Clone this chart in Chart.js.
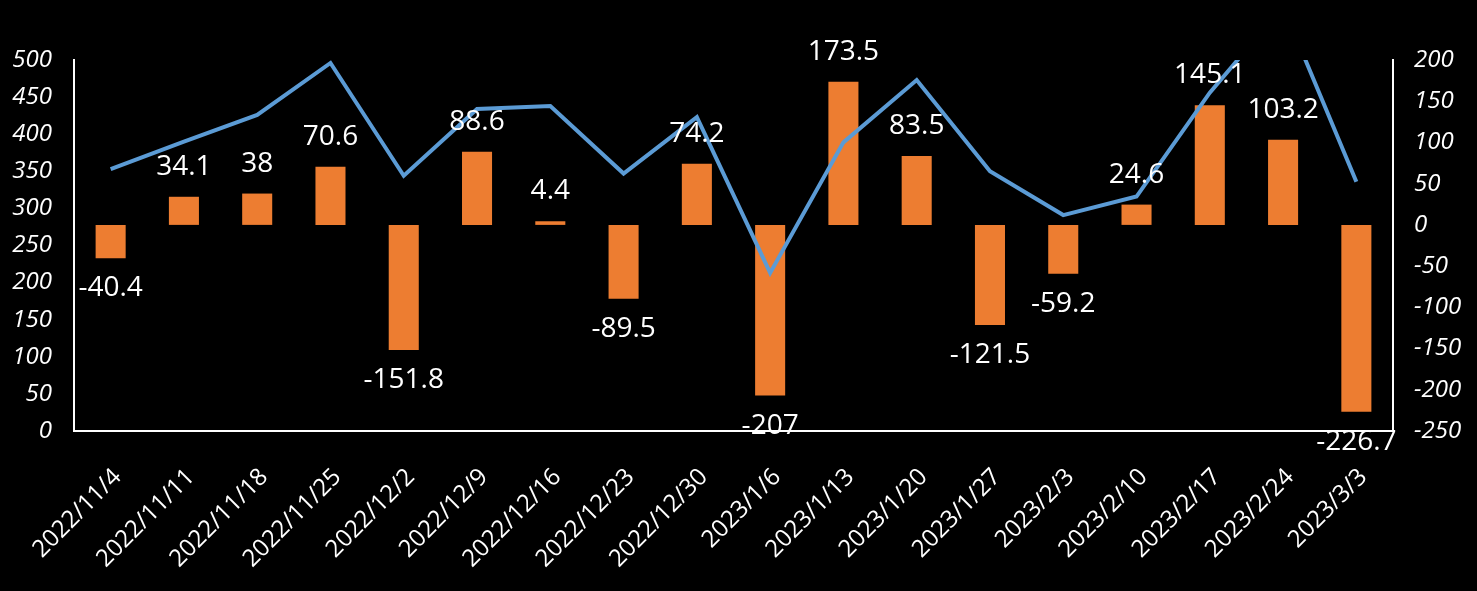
<!DOCTYPE html>
<html>
<head>
<meta charset="utf-8">
<script src="https://cdn.jsdelivr.net/npm/chart.js@4"></script>
<style>
  html, body { margin: 0; padding: 0; background: #000; }
  #wrap { width: 1477px; height: 591px; position: relative; }
</style>
</head>
<body>
<div id="wrap"><canvas id="c" width="1477" height="591"></canvas></div>
<script>
const categories = ['2022/11/4','2022/11/11','2022/11/18','2022/11/25','2022/12/2','2022/12/9','2022/12/16','2022/12/23','2022/12/30','2023/1/6','2023/1/13','2023/1/20','2023/1/27','2023/2/3','2023/2/10','2023/2/17','2023/2/24','2023/3/3'];
const barValues = [-40.4, 34.1, 38, 70.6, -151.8, 88.6, 4.4, -89.5, 74.2, -207, 173.5, 83.5, -121.5, -59.2, 24.6, 145.1, 103.2, -226.7];
const lineValues = [353, 390, 426, 496, 344, 434, 438, 347, 423, 213, 389, 473, 350, 291, 316, 456, 572, 336];
const leftTicks = { min: 0, max: 500, step: 50 };
const rightTicks = { min: -250, max: 200, step: 50 };

const FONT = "'Open Sans', 'DejaVu Sans', sans-serif";

const barLabels = {
  id: 'barLabels',
  afterDatasetsDraw(chart) {
    const ctx = chart.ctx;
    const meta = chart.getDatasetMeta(1);
    ctx.save();
    ctx.font = "28px " + FONT;
    ctx.fillStyle = '#ffffff';
    ctx.textAlign = 'center';
    ctx.textBaseline = 'middle';
    meta.data.forEach((bar, i) => {
      const v = barValues[i];
      const y = v >= 0 ? bar.y - 30 : bar.y + 30;
      ctx.fillText(String(v), bar.x, y);
    });
    ctx.restore();
  }
};

new Chart(document.getElementById('c'), {
  data: {
    labels: categories,
    datasets: [
      {
        type: 'line',
        data: lineValues,
        yAxisID: 'yL',
        borderColor: '#5B9BD5',
        borderWidth: 4,
        pointRadius: 0,
        tension: 0,
        fill: false,
        order: 0
      },
      {
        type: 'bar',
        data: barValues,
        yAxisID: 'yR',
        backgroundColor: '#ED7D31',
        borderWidth: 0,
        categoryPercentage: 0.82,
        barPercentage: 0.5,
        order: 1
      }
    ]
  },
  options: {
    responsive: false,
    animation: false,
    events: [],
    layout: { padding: { top: 60, left: 0, right: 0, bottom: 0 } },
    plugins: { legend: { display: false }, tooltip: { enabled: false } },
    scales: {
      x: {
        offset: true,
        grid: { display: false, drawTicks: false },
        border: { display: true, color: '#ffffff', width: 2 },
        ticks: {
          color: '#ffffff',
          font: { family: FONT, size: 24 },
          minRotation: 45,
          maxRotation: 45,
          padding: 32,
          labelOffset: 7,
          autoSkip: false
        },
        afterFit(s) { s.height = 160; s.paddingLeft = 0; s.paddingRight = 0; }
      },
      yL: {
        position: 'left',
        min: leftTicks.min,
        max: leftTicks.max,
        grid: { display: false, drawTicks: false },
        border: { display: true, color: '#ffffff', width: 2 },
        ticks: {
          stepSize: leftTicks.step,
          color: '#ffffff',
          font: { family: FONT, size: 24, style: 'italic' },
          padding: 22
        },
        afterFit(s) { s.width = 74; }
      },
      yR: {
        position: 'right',
        min: rightTicks.min,
        max: rightTicks.max,
        grid: { display: false, drawTicks: false },
        border: { display: true, color: '#ffffff', width: 2 },
        ticks: {
          stepSize: rightTicks.step,
          color: '#ffffff',
          font: { family: FONT, size: 24, style: 'italic' },
          padding: 21
        },
        afterFit(s) { s.width = 84; }
      }
    }
  },
  plugins: [barLabels]
});
</script>
</body>
</html>
